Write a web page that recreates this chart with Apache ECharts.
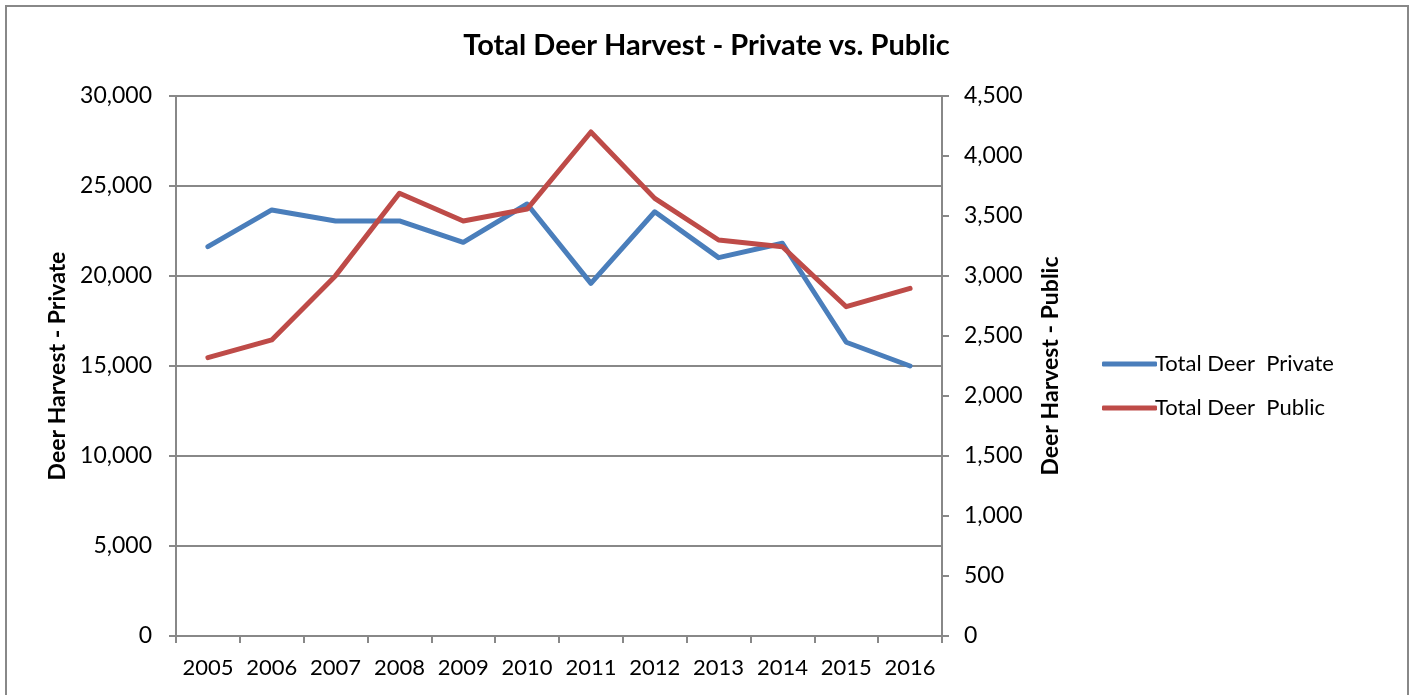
<!DOCTYPE html>
<html>
<head>
<meta charset="utf-8">
<script src="https://cdn.jsdelivr.net/npm/echarts@6/dist/echarts.min.js"></script>
<style>
html,body{margin:0;padding:0;background:#fff;}
#chart{width:1413px;height:695px;}
</style>
</head>
<body>
<div id="chart"></div>
<script>
const years = ['2005','2006','2007','2008','2009','2010','2011','2012','2013','2014','2015','2016'];
const privateHarvest = [21630, 23670, 23060, 23060, 21870, 24000, 19590, 23570, 21020, 21820, 16320, 15000];
const publicHarvest = [2320, 2467, 3003, 3689, 3458, 3558, 4200, 3647, 3300, 3244, 2744, 2897];
const seriesNames = ['Total Deer  Private', 'Total Deer  Public'];

const FONT = 'Lato, "Open Sans", sans-serif';
const chart = echarts.init(document.getElementById('chart'));
chart.setOption({
  animation: false,
  backgroundColor: '#fff',
  textStyle: { fontFamily: FONT, color: '#000' },
  graphic: [{
    type: 'rect',
    shape: { x: 6, y: 6, width: 1402, height: 720 },
    style: { fill: 'none', stroke: '#888', lineWidth: 2 },
    silent: true
  }],
  title: {
    text: 'Total Deer Harvest - Private vs. Public',
    left: 'center',
    top: 26,
    textStyle: { fontFamily: FONT, fontWeight: 'bold', fontSize: 29, color: '#000' }
  },
  legend: {
    orient: 'vertical',
    left: 1097,
    top: 348,
    itemWidth: 55,
    itemHeight: 5,
    itemGap: 22,
    itemStyle: { borderWidth: 0 },
    icon: 'roundRect',
    textStyle: { fontFamily: FONT, fontSize: 22, color: '#000', padding: [0, 0, 0, -7] },
    data: seriesNames
  },
  grid: { left: 176, right: 471, top: 96, bottom: 59, containLabel: false },
  xAxis: {
    type: 'category',
    data: years,
    boundaryGap: true,
    axisLine: { lineStyle: { color: '#888', width: 2 } },
    axisTick: { show: true, interval: 0, alignWithLabel: false, length: 7, lineStyle: { color: '#888', width: 2 } },
    axisLabel: { interval: 0, hideOverlap: false, fontFamily: FONT, fontSize: 22, color: '#000', margin: 21 },
    splitLine: { show: false }
  },
  yAxis: [{
    type: 'value',
    min: 0, max: 30000, interval: 5000,
    name: 'Deer Harvest - Private',
    nameLocation: 'middle',
    nameRotate: 90,
    nameGap: 106,
    nameTextStyle: { fontFamily: FONT, fontWeight: 'bold', fontSize: 23, color: '#000' },
    axisLine: { show: true, lineStyle: { color: '#888', width: 2 } },
    axisTick: { show: true, length: 7, lineStyle: { color: '#888', width: 2 } },
    axisLabel: {
      fontFamily: FONT, fontSize: 23, color: '#000', margin: 24,
      formatter: v => v.toLocaleString('en-US')
    },
    splitLine: { show: true, lineStyle: { color: '#888', width: 2 } }
  }, {
    type: 'value',
    min: 0, max: 4500, interval: 500,
    position: 'right',
    name: 'Deer Harvest - Public',
    nameLocation: 'middle',
    nameRotate: 90,
    nameGap: 97,
    nameTextStyle: { fontFamily: FONT, fontWeight: 'bold', fontSize: 23, color: '#000' },
    axisLine: { show: true, lineStyle: { color: '#888', width: 2 } },
    axisTick: { show: true, length: 7, lineStyle: { color: '#888', width: 2 } },
    axisLabel: {
      fontFamily: FONT, fontSize: 23, color: '#000', margin: 22,
      formatter: v => v.toLocaleString('en-US')
    },
    splitLine: { show: false }
  }],
  series: [{
    name: seriesNames[0],
    type: 'line',
    yAxisIndex: 0,
    data: privateHarvest,
    symbol: 'none',
    color: '#4A7EBB',
    lineStyle: { width: 5, color: '#4A7EBB', cap: 'round', join: 'round' }
  }, {
    name: seriesNames[1],
    type: 'line',
    yAxisIndex: 1,
    data: publicHarvest,
    symbol: 'none',
    color: '#BE4B48',
    lineStyle: { width: 5, color: '#BE4B48', cap: 'round', join: 'round' }
  }]
});
</script>
</body>
</html>
